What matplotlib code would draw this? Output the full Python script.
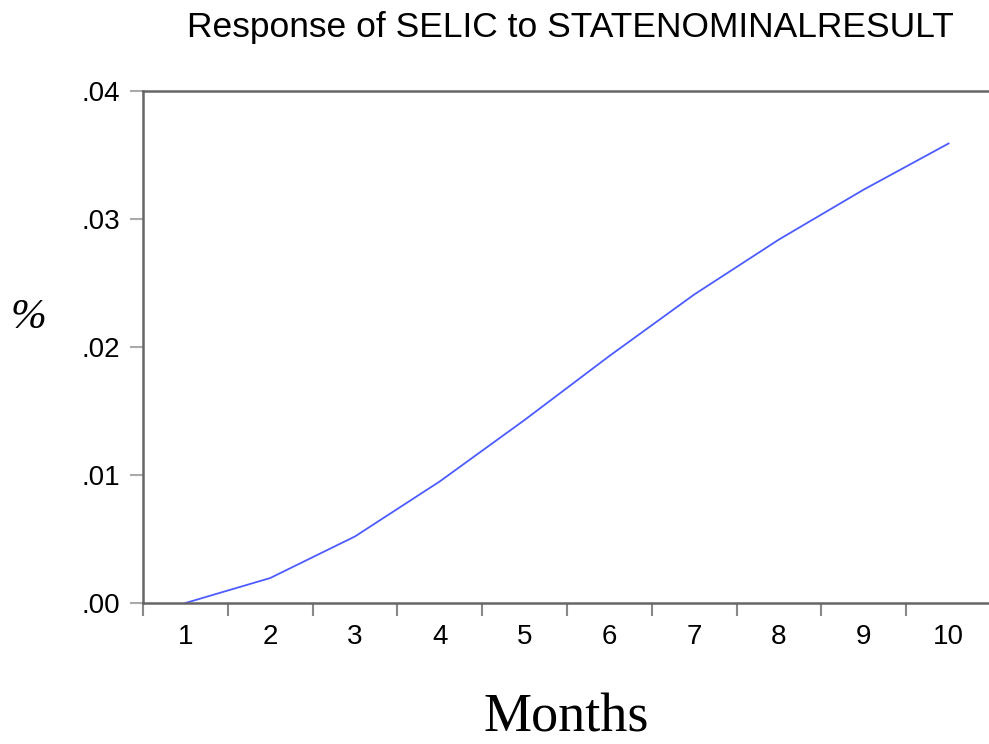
import numpy as np
import matplotlib
matplotlib.use('Agg')
import matplotlib.pyplot as plt

months = [1, 2, 3, 4, 5, 6, 7, 8, 9, 10]
response = [0.0, 0.00195, 0.0052, 0.0095, 0.0143, 0.0193, 0.0241, 0.0284, 0.0323, 0.0359]
ytick_vals = [0.00, 0.01, 0.02, 0.03, 0.04]
ytick_labels = ['.00', '.01', '.02', '.03', '.04']

plt.rcParams['font.family'] = ['Liberation Sans', 'DejaVu Sans']

fig = plt.figure(figsize=(9.89, 7.44), dpi=100)
ax = fig.add_axes([143 / 989, 1 - 603 / 744, 848 / 989, 512 / 744])

ax.plot(months, response, color='#4d5cff', lw=1.3)

ax.set_xlim(0.5, 10.5)
ax.set_ylim(0, 0.04)

ax.set_xticks(months)
ax.set_xticklabels([str(m) for m in months], fontsize=20)
ax.set_xticks(np.arange(0.5, 10.5, 1), minor=True)
ax.tick_params(axis='x', which='major', length=0, pad=15)
ax.tick_params(axis='x', which='minor', length=9.5, width=1.5, color='#888888', direction='out')

ax.set_yticks(ytick_vals)
ax.set_yticklabels(ytick_labels, fontsize=20)
ax.tick_params(axis='y', length=9.5, width=1.5, color='#aaaaaa', direction='out', pad=7)

for s in ['left', 'top', 'bottom']:
    ax.spines[s].set_color('#666666')
    ax.spines[s].set_linewidth(1.8)
ax.spines['right'].set_visible(False)

fig.text(570 / 989, 1 - 28 / 744, 'Response of SELIC to STATENOMINALRESULT',
         ha='center', va='center', fontsize=25.5)
fig.text(28 / 989, 1 - 318 / 744, '%', ha='center', va='center', fontsize=31,
         family='Liberation Serif', style='italic')
fig.text(566 / 989, 1 - 718 / 744, 'Months', ha='center', va='center', fontsize=39,
         family='Liberation Serif')

plt.savefig('out.png', dpi=100)
